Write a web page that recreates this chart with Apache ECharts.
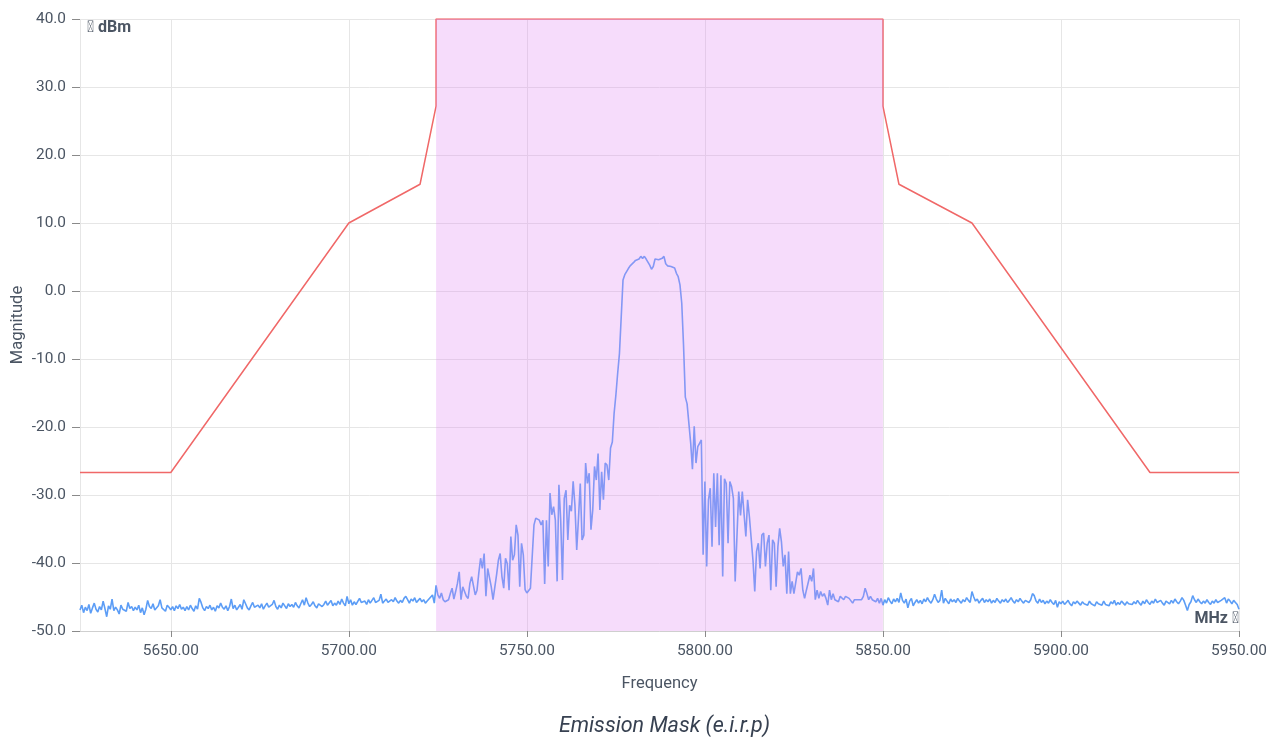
<!DOCTYPE html>
<html>
<head>
<meta charset="utf-8">
<title>Emission Mask (e.i.r.p)</title>
<script src="https://cdn.jsdelivr.net/npm/echarts@6/dist/echarts.min.js"></script>
<style>
  html, body { margin: 0; padding: 0; background: #ffffff; }
  #chart { width: 1279px; height: 738px; }
</style>
</head>
<body>
<div id="chart"></div>
<script>
// Measured spectrum: sampled every 0.5 MHz starting at 5624.5 MHz (dBm)
const FREQ_START = 5624.5;
const FREQ_STEP = 0.5;

// 5624.5 – 5724.0 MHz (noise floor below the channel)
const lowerFloor = [
  -46.9,-46.2,-47.3,-46.5,-47.0,-46.1,-47.4,-46.6,-45.9,-46.8,-47.2,-46.4,-46.9,-45.6,-46.7,-47.9,-46.3,-46.8,-45.3,-47.0,
  -46.5,-46.9,-47.5,-46.2,-46.8,-46.6,-47.1,-45.8,-46.7,-46.4,-47.0,-46.5,-46.9,-46.2,-47.3,-46.6,-47.6,-46.8,-45.5,-46.4,
  -46.7,-46.0,-46.9,-47.0,-46.3,-45.4,-46.6,-46.8,-47.1,-46.2,-46.5,-46.9,-46.4,-47.0,-46.3,-46.7,-46.1,-46.8,-46.5,-47.0,
  -46.4,-46.9,-46.2,-46.7,-47.1,-46.3,-46.8,-45.2,-45.8,-46.6,-47.0,-46.4,-46.7,-46.2,-46.9,-46.5,-47.1,-46.3,-46.6,-45.9,
  -46.5,-46.8,-46.3,-47.0,-46.4,-45.3,-46.7,-46.2,-46.9,-46.5,-46.1,-46.8,-45.4,-46.0,-46.6,-46.9,-46.3,-45.8,-46.5,-46.7,
  -46.2,-46.6,-46.0,-46.8,-46.3,-45.9,-46.5,-46.7,-46.1,-45.5,-46.4,-46.8,-46.2,-46.6,-45.9,-46.3,-46.7,-46.0,-46.4,-46.1,
  -46.5,-45.8,-46.3,-46.6,-46.0,-45.4,-46.2,-45.1,-45.9,-46.4,-46.1,-45.7,-46.3,-46.6,-46.0,-45.8,-46.4,-46.1,-45.6,-46.2,
  -46.0,-45.5,-46.3,-45.9,-46.2,-45.6,-46.1,-45.3,-45.9,-46.3,-44.9,-46.0,-45.4,-46.2,-45.7,-46.1,-45.9,-45.2,-45.8,-46.0,
  -45.6,-46.1,-45.4,-45.9,-45.7,-45.1,-45.8,-46.0,-45.5,-44.6,-45.9,-45.6,-45.3,-45.8,-46.0,-45.4,-45.7,-45.1,-45.6,-45.9,
  -45.5,-45.8,-45.2,-44.9,-45.4,-45.9,-45.3,-45.6,-45.1,-45.8,-45.5,-45.2,-45.7,-45.4,-45.9,-45.6,-45.3,-45.0,-44.7,-45.9
];

// 5724.5 – 5850.0 MHz (inside the channel)
const inBand = [
  -43.3,-44.7,-45.2,-44.4,-45.4,-45.7,-45.5,-45.4,-44.5,-43.7,-45.3,-44.2,-43.0,-41.3,-45.4,-43.5,-44.2,-44.9,-45.2,-43.0,
  -42.0,-41.8,-44.7,-44.0,-41.5,-39.3,-40.8,-38.6,-44.9,-40.8,-40.8,-43.5,-45.4,-45.4,-41.7,-39.6,-38.6,-42.0,-43.7,-39.3,
  -40.1,-44.0,-36.1,-39.6,-38.8,-34.4,-35.9,-43.5,-37.1,-38.8,-43.9,-44.4,-44.2,-43.7,-43.5,-34.4,-33.4,-33.2,-33.7,-34.4,
  -33.7,-43.1,-33.7,-40.5,-29.7,-32.9,-31.7,-33.7,-42.7,-28.5,-33.7,-42.5,-30.5,-29.3,-36.6,-31.5,-32.4,-28.0,-31.5,-38.1,
  -33.4,-28.3,-36.6,-35.9,-25.3,-28.3,-26.8,-35.1,-32.2,-25.8,-27.8,-23.9,-32.2,-26.6,-30.7,-25.3,-25.6,-27.8,-23.1,-22.2,
  -18.0,-15.3,-12.1,-9.2,-3.8,1.6,2.4,2.6,3.3,3.7,3.8,4.2,4.5,4.5,4.7,5.1,4.8,5.1,4.7,4.5,
  3.8,3.2,3.6,4.7,4.8,4.6,4.7,4.8,5.1,4.0,3.7,3.6,3.6,3.5,3.4,2.6,2.1,0.9,-1.8,-8.0,
  -15.6,-16.6,-16.4,-22.3,-26.2,-19.9,-25.3,-22.9,-22.4,-21.9,-38.8,-28.0,-40.5,-30.7,-29.0,-37.6,-26.8,-34.7,-26.8,-37.4,
  -27.1,-42.0,-27.6,-28.3,-37.1,-28.0,-28.8,-30.5,-42.7,-42.5,-29.5,-33.0,-29.5,-29.5,-36.1,-30.7,-33.2,-33.2,-39.6,-44.2,
  -38.3,-37.1,-40.8,-35.9,-35.6,-40.5,-37.1,-35.9,-44.0,-36.6,-37.1,-43.5,-37.6,-34.9,-36.9,-40.5,-38.8,-44.5,-38.3,-44.5,
  -42.7,-44.5,-44.7,-41.3,-41.8,-40.8,-44.0,-45.2,-44.0,-44.0,-41.8,-42.7,-40.8,-45.4,-44.0,-45.2,-44.2,-44.9,-44.5,-45.2,
  -46.2,-44.0,-45.4,-44.5,-45.4,-45.2,-45.7,-44.9,-44.7,-45.4,-44.9,-44.7,-45.2,-45.4,-45.9,-45.4,-45.2,-45.4,-45.2,-45.4,
  -44.9,-43.7,-44.5,-45.4,-44.9,-45.4,-45.2,-45.7,-45.2,-45.9,-45.2,-46.2
];

// 5850.5 – 5950.0 MHz (noise floor above the channel)
const upperFloor = [
  -45.4,-45.9,-45.1,-45.6,-46.0,-45.3,-45.7,-45.2,-45.8,-44.4,-45.5,-45.9,-45.3,-46.6,-45.6,-45.2,-46.3,-45.8,-45.4,-45.9,
  -45.5,-46.0,-45.3,-45.7,-45.1,-45.6,-45.9,-45.4,-44.6,-45.3,-45.8,-45.5,-44.0,-45.9,-45.2,-45.6,-46.0,-45.3,-45.7,-45.4,
  -45.8,-45.2,-45.6,-45.9,-45.4,-45.7,-45.1,-45.5,-45.8,-44.2,-45.0,-45.6,-45.3,-45.9,-45.5,-45.2,-45.8,-45.4,-45.7,-45.3,
  -45.9,-45.5,-45.8,-45.2,-45.6,-45.9,-45.4,-45.7,-45.3,-45.8,-45.5,-45.1,-45.6,-45.9,-45.4,-45.7,-45.2,-45.6,-45.9,-45.5,
  -45.3,-45.8,-45.4,-44.5,-44.8,-45.6,-45.9,-45.3,-45.8,-45.5,-46.0,-45.6,-45.9,-45.4,-45.8,-46.1,-45.5,-46.5,-45.7,-46.0,
  -45.6,-46.1,-45.8,-45.5,-46.0,-46.3,-45.7,-46.0,-45.6,-45.9,-46.2,-45.7,-46.0,-45.8,-46.2,-45.6,-46.0,-45.9,-46.3,-45.7,
  -46.0,-45.8,-46.2,-45.6,-46.1,-45.9,-46.3,-45.7,-46.0,-45.5,-46.2,-45.8,-46.1,-45.6,-45.9,-46.2,-45.7,-46.0,-45.8,-46.1,
  -45.7,-46.0,-45.5,-45.9,-46.2,-45.6,-46.0,-45.4,-45.8,-46.1,-45.6,-45.9,-45.3,-45.8,-46.0,-45.5,-45.9,-46.2,-45.6,-45.8,
  -46.0,-45.5,-45.9,-45.3,-45.7,-46.0,-45.6,-45.1,-45.5,-46.2,-47.0,-46.1,-45.7,-44.8,-45.4,-45.8,-45.3,-45.7,-46.0,-45.6,
  -45.9,-45.4,-45.8,-46.1,-45.6,-45.9,-45.4,-45.8,-46.0,-45.5,-45.7,-45.1,-45.9,-45.3,-45.6,-46.0,-45.5,-45.8,-46.1,-46.8
];

// Emission mask limit line: [frequency MHz, limit dBm]
const maskFreq  = [5624.5, 5650, 5700, 5720, 5724.5, 5724.5, 5850, 5850, 5854.5, 5875, 5925, 5950];
const maskLimit = [-26.7, -26.7, 10, 15.7, 27.2, 40, 40, 27.2, 15.7, 10, -26.7, -26.7];

// Channel occupied by the transmission
const channelStart = 5724.5;
const channelEnd = 5850;

const X_MIN = 5624.5, X_MAX = 5950;
const Y_MIN = -50, Y_MAX = 40, Y_STEP = 10;

const ICON = '\uE900';
const TEXT_COLOR = '#4b5563';
const FONT = 'Roboto, "Noto Sans", sans-serif';

const spectrumValues = lowerFloor.concat(inBand, upperFloor);
const spectrum = spectrumValues.map((v, i) => [FREQ_START + i * FREQ_STEP, v]);
const mask = maskFreq.map((f, i) => [f, maskLimit[i]]);

const chart = echarts.init(document.getElementById('chart'), null, { renderer: 'canvas' });

chart.setOption({
  animation: false,
  backgroundColor: '#ffffff',
  textStyle: { fontFamily: FONT },
  title: {
    text: 'Emission Mask (e.i.r.p)',
    left: 659.5,
    textAlign: 'center',
    top: 711,
    textStyle: {
      fontFamily: FONT,
      fontStyle: 'italic',
      fontWeight: 'normal',
      fontSize: 21.5,
      color: '#374151'
    }
  },
  grid: {
    left: 80, right: 40, top: 19, bottom: 107,
    containLabel: false,
    outerBoundsMode: 'none'
  },
  xAxis: {
    type: 'value',
    min: X_MIN,
    max: X_MAX,
    name: 'Frequency',
    nameLocation: 'middle',
    nameGap: 44,
    nameMoveOverlap: false,
    nameTextStyle: { fontSize: 16.5, color: TEXT_COLOR, fontFamily: FONT },
    axisLine: { show: true, onZero: false, lineStyle: { color: '#cfcfcf', width: 1 } },
    axisTick: { show: true, length: 6, lineStyle: { color: '#8a8a8a' } },
    axisLabel: {
      showMinLabel: false,
      margin: 13,
      fontSize: 15.4,
      color: TEXT_COLOR,
      formatter: v => v.toFixed(2)
    },
    splitLine: { show: true, lineStyle: { color: '#e6e6e6', width: 1 } }
  },
  yAxis: {
    type: 'value',
    min: Y_MIN,
    max: Y_MAX,
    interval: Y_STEP,
    name: 'Magnitude',
    nameLocation: 'middle',
    nameRotate: 90,
    nameGap: 54,
    nameMoveOverlap: false,
    nameTextStyle: { fontSize: 16.5, color: TEXT_COLOR, fontFamily: FONT },
    axisLine: { show: false },
    axisTick: { show: true, length: 8, lineStyle: { color: '#8a8a8a' } },
    axisLabel: {
      margin: 14,
      fontSize: 15.4,
      color: TEXT_COLOR,
      formatter: v => v.toFixed(1)
    },
    splitLine: { show: true, lineStyle: { color: '#e6e6e6', width: 1 } }
  },
  graphic: [
    {
      type: 'text',
      left: 87,
      top: 20,
      z: 10,
      style: {
        text: ICON + ' dBm',
        font: 'bold 16px Roboto, sans-serif',
        fill: TEXT_COLOR
      }
    },
    {
      type: 'text',
      right: 40,
      top: 611,
      z: 10,
      style: {
        text: 'MHz ' + ICON,
        font: 'bold 16px Roboto, sans-serif',
        fill: TEXT_COLOR,
        textAlign: 'right'
      }
    }
  ],
  series: [
    {
      name: 'Spectrum',
      type: 'line',
      data: spectrum,
      z: 2,
      showSymbol: false,
      symbol: 'none',
      lineStyle: { color: '#5c9df6', width: 1.6 },
      itemStyle: { color: '#5c9df6' }
    },
    {
      name: 'Mask',
      type: 'line',
      data: mask,
      z: 3,
      showSymbol: false,
      symbol: 'none',
      lineStyle: { color: '#f06868', width: 1.5 },
      itemStyle: { color: '#f06868' }
    },
    {
      name: 'Channel',
      type: 'line',
      data: [],
      z: 5,
      markArea: {
        silent: true,
        z: 5,
        itemStyle: { color: 'rgba(225,138,242,0.3)' },
        data: [[{ xAxis: channelStart }, { xAxis: channelEnd }]]
      }
    }
  ]
});
</script>
</body>
</html>
